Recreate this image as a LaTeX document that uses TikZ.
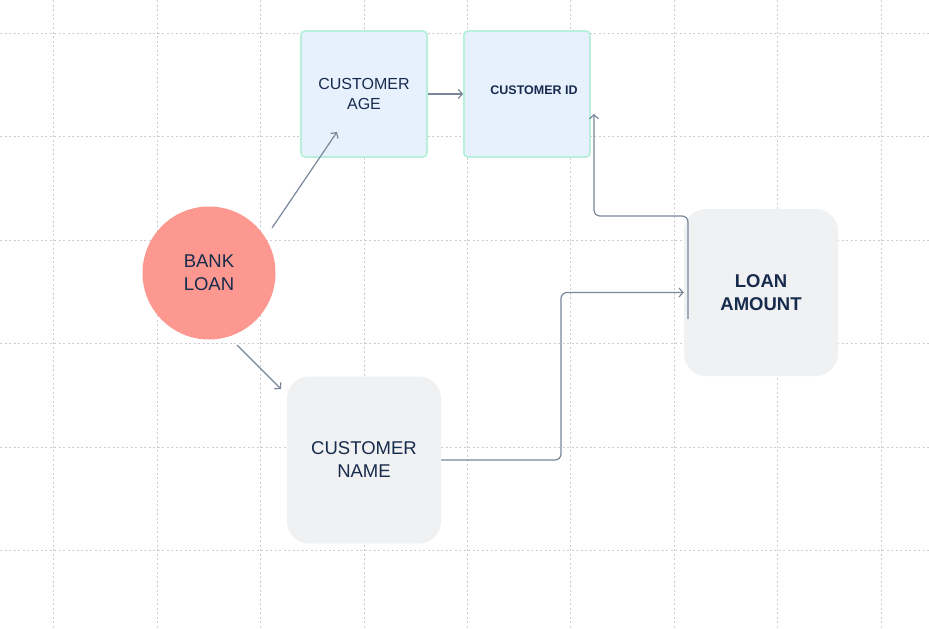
\documentclass[tikz,border=0pt]{standalone}
\usepackage{fontspec}
\setmainfont{Liberation Sans}
\usepackage{xcolor}
\usetikzlibrary{arrows.meta, calc, positioning}

\definecolor{gridgray}{RGB}{204,204,210}
\definecolor{navy}{RGB}{23,43,77}
\definecolor{wire}{RGB}{122,134,154}
\definecolor{salmon}{RGB}{252,152,144}
\definecolor{paleblue}{RGB}{231,241,254}
\definecolor{mint}{RGB}{184,240,220}
\definecolor{palegray}{RGB}{240,241,243}

\begin{document}
\begin{tikzpicture}[x=1pt, y=-1pt,
    gridline/.style={gridgray, line width=0.9pt, dash pattern=on 2pt off 2.5pt},
    wirearrow/.style={wire, line width=1.2pt, -{Straight Barb[length=4pt, width=9pt, line width=1.2pt]}, rounded corners=6pt},
    bluebox/.style={draw=mint, line width=1.8pt, fill=paleblue, rounded corners=4pt,
        minimum width=126pt, minimum height=126pt, text=navy, align=center, inner sep=0pt},
    graybox/.style={fill=palegray, rounded corners=22pt,
        minimum width=154pt, minimum height=167pt, text=navy, align=center, inner sep=0pt}]
    \useasboundingbox (0,0) rectangle (929,629);

    % background grid
    \foreach \gx in {53,157,260,364,467,570,674,777,881}
        \draw[gridline] (\gx,0) -- (\gx,629);
    \foreach \gy in {33,136,240,343,447,550}
        \draw[gridline] (0,\gy) -- (929,\gy);

    \node[bluebox, font=\fontsize{16}{20}\selectfont] (age) at (364,94) {CUSTOMER\\AGE};
    \node[bluebox, font=\bfseries\fontsize{12.5}{15}\selectfont, text depth=0pt] (custid) at (527,94) {\hspace*{14pt}\raisebox{8pt}{CUSTOMER ID}};
    \node[circle, fill=salmon, minimum size=133pt, inner sep=0pt, text=navy, align=center,
        font=\fontsize{18.5}{23}\selectfont] (bank) at (209,273) {BANK\\LOAN};
    \node[graybox, font=\fontsize{18.5}{23}\selectfont] (name) at (364,460) {CUSTOMER\\NAME};
    \node[graybox, font=\bfseries\fontsize{18.5}{23}\selectfont] (amount) at (761,292.5) {LOAN\\AMOUNT};

    \coordinate (bankup) at (272,228);
    \coordinate (ageup) at (337,132);
    \coordinate (bankdown) at (237,345);
    \coordinate (namedown) at (281,389);
    \coordinate (amountin) at (688,319);
    \coordinate (idin) at (594,114);

    \draw[wirearrow] (bankup) -- (ageup);
    \draw[wirearrow] (bankdown) -- (namedown);
    \draw[wirearrow] (age.east) -- (custid.west);
    \draw[wirearrow] (name.east) -- (561,460) -- (561,292.5) -- (amount.west);
    \draw[wirearrow] (amountin) -- (688,216) -- (594,216) -- (idin);
\end{tikzpicture}
\end{document}
